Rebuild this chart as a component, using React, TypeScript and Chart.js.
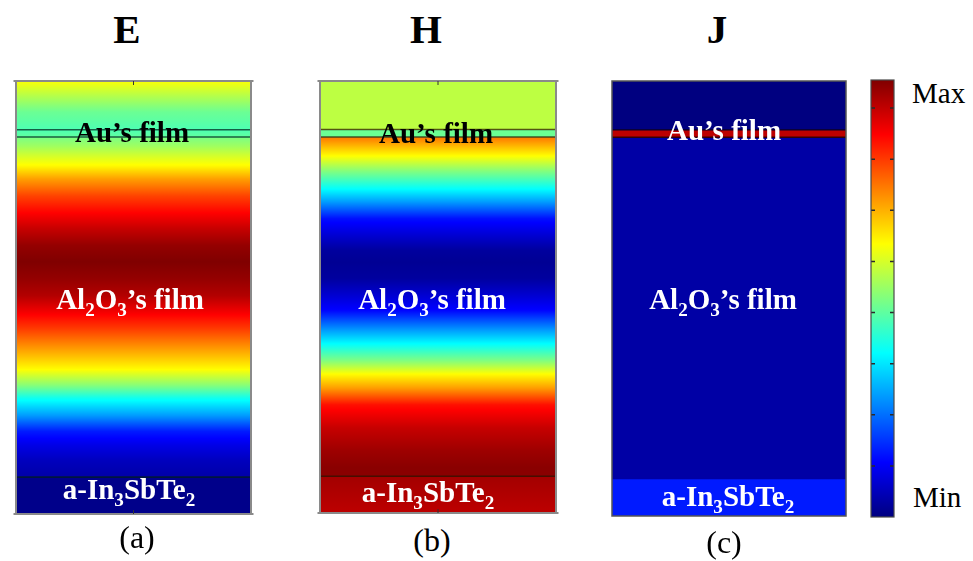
import React, { useEffect, useRef } from "react";
import { Chart, registerables } from "chart.js";

Chart.register(...registerables);

// ---------- data ----------
const layerNames = ["Top medium", "Au’s film", "Al2O3’s film", "a-In3SbTe2"];
const layerBounds = [0, 66, 76, 537, 587]; // depth (nm)

// Panel (a) E-field profile (normalised 0 = Min, 1 = Max)
const eAirDepth = [0, 24, 42, 66];
const eAirValue = [0.62, 0.54, 0.48, 0.45];
const eAuValue = [0.45, 0.47];
const eAlDepth = [76, 78, 88, 101, 115, 133, 156, 177, 200, 223, 245, 268, 291, 312, 335, 358, 390, 412, 430, 453, 475, 494, 515, 537];
const eAlValue = [0.49, 0.5, 0.53, 0.58, 0.63, 0.72, 0.81, 0.87, 0.93, 0.98, 1.0, 0.98, 0.95, 0.89, 0.82, 0.74, 0.63, 0.51, 0.39, 0.28, 0.15, 0.1, 0.06, 0.04];
const eIstValue = [0.01, 0.01];

// Panel (b) H-field profile
const hAirValue = [0.56, 0.56];
const hAuValue = [0.48, 0.48];
const hAlDepth = [76, 80, 101, 123, 146, 164, 187, 210, 230, 246, 268, 291, 312, 339, 358, 380, 399, 417, 440, 471, 502, 525, 537];
const hAlValue = [0.76, 0.74, 0.63, 0.5, 0.38, 0.28, 0.14, 0.08, 0.03, 0.02, 0.03, 0.08, 0.13, 0.28, 0.38, 0.5, 0.63, 0.72, 0.86, 0.93, 0.97, 0.99, 0.99];
const hIstValue = [0.965, 0.94];

// Panel (c) J (current density) profile
const jAirValue = [0, 0];
const jAuValue = [0.94, 0.94];
const jAlValue = [0.037, 0.037];
const jIstValue = [0.15, 0.15];

// Colour bar
const cbMax = 8.55;
const cbTicks = [1, 2, 3, 4, 5, 6, 7, 8];

// ---------- helpers ----------
const SERIF = '"Liberation Serif", "Times New Roman", "DejaVu Serif", serif';
const JET_BREAKS = [0.125, 0.375, 0.625, 0.875];

function jet(v: number): string {
  const c = (x: number) => Math.max(0, Math.min(1, x));
  const r = c(1.5 - Math.abs(4 * v - 3));
  const g = c(1.5 - Math.abs(4 * v - 2));
  const b = c(1.5 - Math.abs(4 * v - 1));
  return `rgb(${Math.round(r * 255)},${Math.round(g * 255)},${Math.round(b * 255)})`;
}

function layerGradient(chart: any, depths: number[], values: number[]) {
  const area = chart.chartArea;
  const ys = chart.scales && chart.scales.y;
  if (!area || !ys) return jet(values[0]);
  const d0 = depths[0];
  const dN = depths[depths.length - 1];
  const p0 = ys.getPixelForValue(d0);
  const p1 = ys.getPixelForValue(dN);
  const grad = chart.ctx.createLinearGradient(0, p0, 0, p1);
  const span = dN - d0;
  const stops: [number, number][] = [];
  for (let i = 0; i < depths.length; i++) {
    stops.push([(depths[i] - d0) / span, values[i]]);
    if (i < depths.length - 1) {
      const v0 = values[i];
      const v1 = values[i + 1];
      for (const b of JET_BREAKS) {
        if ((b - v0) * (b - v1) < 0) {
          const t = (b - v0) / (v1 - v0);
          stops.push([(depths[i] + t * (depths[i + 1] - depths[i]) - d0) / span, b]);
        }
      }
    }
  }
  stops.sort((a, b) => a[0] - b[0]);
  stops.forEach(([o, v]) => grad.addColorStop(Math.max(0, Math.min(1, o)), jet(v)));
  return grad;
}

const framePlugin = {
  id: "panelFrame",
  afterDatasetsDraw(chart: any, _args: any, opts: any) {
    const { ctx, chartArea: a, scales } = chart;
    const y = scales.y;
    ctx.save();
    (opts.lines || []).forEach((d: number) => {
      const py = y.getPixelForValue(d);
      ctx.strokeStyle = opts.lineColor;
      ctx.lineWidth = opts.lineWidth;
      ctx.beginPath();
      ctx.moveTo(a.left, py);
      ctx.lineTo(a.right, py);
      ctx.stroke();
    });
    (opts.ticks || []).forEach((v: number) => {
      const py = y.getPixelForValue(v);
      ctx.strokeStyle = opts.tickColor;
      ctx.lineWidth = 1.5;
      ctx.beginPath();
      ctx.moveTo(a.left, py);
      ctx.lineTo(a.left + 4, py);
      ctx.moveTo(a.right - 4, py);
      ctx.lineTo(a.right, py);
      ctx.stroke();
    });
    ctx.strokeStyle = opts.color;
    ctx.lineWidth = opts.width;
    ctx.strokeRect(a.left, a.top, a.right - a.left, a.bottom - a.top);
    if (opts.extend) {
      ctx.beginPath();
      ctx.moveTo(a.left - opts.extend, a.top);
      ctx.lineTo(a.right + opts.extend, a.top);
      ctx.moveTo(a.left - opts.extend, a.bottom);
      ctx.lineTo(a.right + opts.extend, a.bottom);
      ctx.stroke();
    }
    if (opts.centerTicks) {
      const mx = (a.left + a.right) / 2;
      ctx.strokeStyle = "#333";
      ctx.lineWidth = 1;
      ctx.beginPath();
      ctx.moveTo(mx, a.top);
      ctx.lineTo(mx, a.top + 4);
      ctx.moveTo(mx, a.bottom);
      ctx.lineTo(mx, a.bottom - 4);
      ctx.stroke();
    }
    ctx.restore();
  },
};

type Layer = { depth: number[]; value: number[] };

function buildPanel(canvas: HTMLCanvasElement, layers: Layer[], frame: any, padding: any) {
  const datasets = layers.map((L, i) => ({
    label: layerNames[i],
    data: [[layerBounds[i], layerBounds[i + 1]]] as any,
    backgroundColor: (c: any) => layerGradient(c.chart, L.depth, L.value),
    grouped: false,
    barPercentage: 1,
    categoryPercentage: 1,
    borderWidth: 0,
  }));
  return new Chart(canvas, {
    type: "bar",
    data: { labels: ["stack"], datasets },
    plugins: [framePlugin],
    options: {
      responsive: false,
      animation: false,
      events: [],
      layout: { padding },
      plugins: { legend: { display: false }, tooltip: { enabled: false }, panelFrame: frame } as any,
      scales: {
        x: { display: false },
        y: { display: false, reverse: true, min: layerBounds[0], max: layerBounds[layerBounds.length - 1] },
      },
    },
  });
}

function buildColorbar(canvas: HTMLCanvasElement) {
  return new Chart(canvas, {
    type: "bar",
    data: {
      labels: ["scale"],
      datasets: [
        {
          label: "colour scale",
          data: [[0, cbMax]] as any,
          backgroundColor: (c: any) => layerGradient(c.chart, [0, cbMax], [0, 1]),
          barPercentage: 1,
          categoryPercentage: 1,
          borderWidth: 0,
        },
      ],
    },
    plugins: [framePlugin],
    options: {
      responsive: false,
      animation: false,
      events: [],
      layout: { padding: { left: 6, right: 6, top: 6, bottom: 6 } },
      plugins: {
        legend: { display: false },
        tooltip: { enabled: false },
        panelFrame: { color: "#4a4a4a", width: 1.2, ticks: cbTicks, tickColor: "#2a2a2a" },
      } as any,
      scales: {
        x: { display: false },
        y: { display: false, min: 0, max: cbMax },
      },
    },
  });
}

// ---------- text ----------
function Txt(props: { x: number; base: number; size: number; bold?: boolean; color?: string; align?: "center" | "left"; children: any }) {
  const { x, base, size, bold, color = "#000", align = "center", children } = props;
  return (
    <div
      style={{
        position: "absolute",
        left: x,
        top: base - 0.8375 * size,
        fontFamily: SERIF,
        fontSize: size,
        lineHeight: 1,
        fontWeight: bold ? 700 : 400,
        color,
        whiteSpace: "nowrap",
        transform: align === "center" ? "translateX(-50%)" : undefined,
      }}
    >
      {children}
    </div>
  );
}

const Sub = ({ children }: { children: any }) => (
  <span style={{ fontSize: "0.66em", verticalAlign: "-0.36em", lineHeight: 0 }}>{children}</span>
);

export default function App() {
  const aRef = useRef<HTMLCanvasElement>(null);
  const bRef = useRef<HTMLCanvasElement>(null);
  const cRef = useRef<HTMLCanvasElement>(null);
  const cbRef = useRef<HTMLCanvasElement>(null);

  useEffect(() => {
    const pad = { left: 6, right: 6, top: 6, bottom: 6 };
    const frameAB = (lineColor: string) => ({
      color: "#8a8a8a",
      width: 2,
      extend: 2.5,
      centerTicks: true,
      lines: [layerBounds[1], layerBounds[2], layerBounds[3]],
      lineColor,
      lineWidth: 1.6,
    });
    const charts = [
      buildPanel(
        aRef.current!,
        [
          { depth: eAirDepth, value: eAirValue },
          { depth: [layerBounds[1], layerBounds[2]], value: eAuValue },
          { depth: eAlDepth, value: eAlValue },
          { depth: [layerBounds[3], layerBounds[4]], value: eIstValue },
        ],
        frameAB("rgba(0,30,25,0.72)"),
        pad
      ),
      buildPanel(
        bRef.current!,
        [
          { depth: [layerBounds[0], layerBounds[1]], value: hAirValue },
          { depth: [layerBounds[1], layerBounds[2]], value: hAuValue },
          { depth: hAlDepth, value: hAlValue },
          { depth: [layerBounds[3], layerBounds[4]], value: hIstValue },
        ],
        frameAB("rgba(40,20,0,0.72)"),
        pad
      ),
      buildPanel(
        cRef.current!,
        [
          { depth: [layerBounds[0], layerBounds[1]], value: jAirValue },
          { depth: [layerBounds[1], layerBounds[2]], value: jAuValue },
          { depth: [layerBounds[2], layerBounds[3]], value: jAlValue },
          { depth: [layerBounds[3], layerBounds[4]], value: jIstValue },
        ],
        {
          color: "#555",
          width: 1.5,
          lines: [layerBounds[1], layerBounds[2]],
          lineColor: "rgba(20,0,0,0.75)",
          lineWidth: 1.4,
        },
        pad
      ),
      buildColorbar(cbRef.current!),
    ];
    return () => charts.forEach((c) => c.destroy());
  }, []);

  return (
    <div style={{ position: "absolute", left: 0, top: 0, width: 973, height: 561, background: "#fff", overflow: "hidden" }}>
      <canvas ref={aRef} width={247} height={445} style={{ position: "absolute", left: 10, top: 75 }} />
      <canvas ref={bRef} width={248} height={444} style={{ position: "absolute", left: 314, top: 75 }} />
      <canvas ref={cRef} width={246} height={447} style={{ position: "absolute", left: 606, top: 75 }} />
      <canvas ref={cbRef} width={35} height={449} style={{ position: "absolute", left: 865, top: 74 }} />

      <Txt x={127} base={43} size={41} bold>E</Txt>
      <Txt x={426} base={43} size={41} bold>H</Txt>
      <Txt x={717} base={43} size={41} bold>J</Txt>

      <Txt x={132} base={142} size={29} bold>Au’s film</Txt>
      <Txt x={436} base={143} size={29} bold>Au’s film</Txt>
      <Txt x={724} base={140} size={29} bold color="#fff">Au’s film</Txt>

      <Txt x={130} base={309} size={29} bold color="#fff">Al<Sub>2</Sub>O<Sub>3</Sub>’s film</Txt>
      <Txt x={432} base={309} size={29} bold color="#fff">Al<Sub>2</Sub>O<Sub>3</Sub>’s film</Txt>
      <Txt x={723} base={309} size={29} bold color="#fff">Al<Sub>2</Sub>O<Sub>3</Sub>’s film</Txt>

      <Txt x={129} base={499} size={29} bold color="#fff">a-In<Sub>3</Sub>SbTe<Sub>2</Sub></Txt>
      <Txt x={428} base={502} size={29} bold color="#fff">a-In<Sub>3</Sub>SbTe<Sub>2</Sub></Txt>
      <Txt x={728} base={506} size={29} bold color="#fff">a-In<Sub>3</Sub>SbTe<Sub>2</Sub></Txt>

      <Txt x={137} base={548} size={32}>(a)</Txt>
      <Txt x={432} base={551} size={32}>(b)</Txt>
      <Txt x={724} base={553} size={32}>(c)</Txt>

      <Txt x={912} base={103} size={29} align="left">Max</Txt>
      <Txt x={913} base={507} size={29} align="left">Min</Txt>
    </div>
  );
}
